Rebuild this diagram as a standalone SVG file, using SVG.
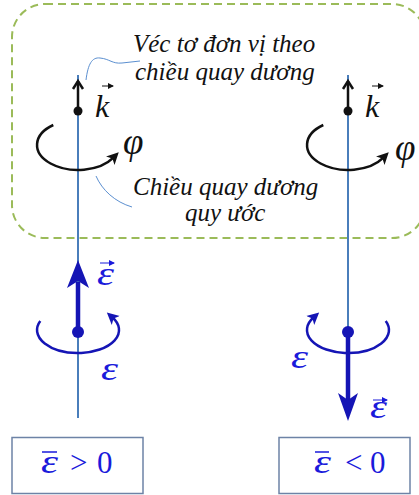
<svg xmlns="http://www.w3.org/2000/svg" width="419" height="495" viewBox="0 0 419 495">
<style>
.axis{stroke:#4a7ebb;stroke-width:2;fill:none}
.lead{stroke:#5b8fd0;stroke-width:1;fill:none}
.note{font-family:"Liberation Serif","Times New Roman",serif;font-style:italic;font-size:25px;fill:#111}
.sym{font-family:"Liberation Serif","Times New Roman",serif;font-style:italic;font-size:32px;fill:#111}
.phi{font-family:"Liberation Serif","Times New Roman",serif;font-style:italic;font-size:37px;fill:#111}
.bsym{font-family:"Liberation Serif","Times New Roman",serif;font-style:italic;font-size:34px;fill:#1a1adb}
.bnum{font-family:"Liberation Serif","Times New Roman",serif;font-size:31px;fill:#1a1adb}
.blk{stroke:#111;stroke-width:2.5;fill:none}
.blu{stroke:#1515b5;stroke-width:2.5;fill:none}
.box{fill:#fff;stroke:#6d83a6;stroke-width:1.5}
</style>
<defs>
<marker id="ahK" markerUnits="userSpaceOnUse" markerWidth="14" markerHeight="14" refX="4" refY="6" orient="auto" viewBox="0 0 14 12">
<path d="M0,0 L12,6 L0,12 L3,6 z" fill="#111"/>
</marker>
<marker id="ahB" markerUnits="userSpaceOnUse" markerWidth="14" markerHeight="14" refX="4" refY="6" orient="auto" viewBox="0 0 14 12">
<path d="M0,0 L12,6 L0,12 L3,6 z" fill="#1515b5"/>
</marker>
<marker id="ahS" markerUnits="userSpaceOnUse" markerWidth="6" markerHeight="6" refX="5" refY="3" orient="auto" viewBox="0 0 6 6">
<path d="M0,0 L6,3 L0,6 z" fill="#111"/>
</marker>
<marker id="ahSB" markerUnits="userSpaceOnUse" markerWidth="6" markerHeight="6" refX="5" refY="3" orient="auto" viewBox="0 0 6 6">
<path d="M0,0 L6,3 L0,6 z" fill="#1a1adb"/>
</marker>
</defs>

<g id="region">
<rect x="12" y="4" width="413" height="234" rx="33" ry="33" fill="none" stroke="#9bbb59" stroke-width="2" stroke-dasharray="8 5"/>
</g>

<g id="connectors">
<line class="axis" x1="78" y1="75" x2="78" y2="418"/>
<line class="axis" x1="348" y1="75" x2="348" y2="405"/>
<path class="lead" d="M86,80 C88,64 92,57 100,58 C110,59 112,64 122,63 L140,61"/>
<path class="lead" d="M96,176 C102,190 115,202 132,207"/>
</g>

<g id="label-top">
<text class="note" x="133" y="52">Véc tơ đơn vị theo</text>
<text class="note" x="135" y="80">chiều quay dương</text>
</g>
<g id="label-bottom">
<text class="note" x="133" y="195">Chiều quay dương</text>
<text class="note" x="185" y="221">quy ước</text>
</g>

<g id="left-k">
<line class="blk" x1="78" y1="111" x2="78" y2="81"/>
<polyline class="blk" points="73,89 78,81 83,89"/>
<circle cx="78" cy="111" r="4.5" fill="#111"/>
<text class="sym" x="95" y="117">k</text>
<line x1="102" y1="86" x2="113" y2="86" stroke="#111" stroke-width="1" marker-end="url(#ahS)"/>
</g>
<g id="left-phi">
<path class="blk" d="M53.3,125 A41,25 0 1 0 113.1,157.9" marker-end="url(#ahK)"/>
<text class="phi" x="123" y="154">φ</text>
</g>

<g id="right-k">
<line class="blk" x1="348" y1="111" x2="348" y2="81"/>
<polyline class="blk" points="343,89 348,81 353,89"/>
<circle cx="348" cy="111" r="4.5" fill="#111"/>
<text class="sym" x="365" y="117">k</text>
<line x1="372" y1="86" x2="383" y2="86" stroke="#111" stroke-width="1" marker-end="url(#ahS)"/>
</g>
<g id="right-phi">
<path class="blk" d="M323.3,125 A41,25 0 1 0 383.1,157.9" marker-end="url(#ahK)"/>
<text class="phi" x="395" y="160">φ</text>
</g>

<g id="left-eps">
<line x1="78" y1="332" x2="78" y2="282" stroke="#1515b5" stroke-width="4.5"/>
<polygon points="78,260 89,288 78,281 67,288" fill="#1515b5"/>
<circle cx="78" cy="332" r="6" fill="#1515b5"/>
<path class="blu" d="M40.3,321 A41,23 0 1 0 112.8,317.8" marker-end="url(#ahB)"/>
<text class="bsym" x="97" y="285" textLength="17" lengthAdjust="spacingAndGlyphs">ε</text>
<line x1="100" y1="263" x2="114" y2="263" stroke="#1a1adb" stroke-width="1" marker-end="url(#ahSB)"/>
<text class="bsym" x="101" y="380" textLength="17" lengthAdjust="spacingAndGlyphs">ε</text>
</g>

<g id="right-eps">
<line x1="348" y1="332" x2="348" y2="400" stroke="#1515b5" stroke-width="4.5"/>
<polygon points="348,421 358,393 348,400 338,393" fill="#1515b5"/>
<circle cx="348" cy="332" r="6" fill="#1515b5"/>
<path class="blu" d="M385.7,321 A41,23 0 1 1 313.2,317.8" marker-end="url(#ahB)"/>
<text class="bsym" x="370" y="418" textLength="17" lengthAdjust="spacingAndGlyphs">ε</text>
<line x1="373" y1="400" x2="387" y2="400" stroke="#1a1adb" stroke-width="1" marker-end="url(#ahSB)"/>
<text class="bsym" x="291" y="368" textLength="17" lengthAdjust="spacingAndGlyphs">ε</text>
</g>

<g id="box-pos">
<rect class="box" x="12" y="437.5" width="131" height="56"/>
<text class="bsym" x="41" y="473" textLength="17" lengthAdjust="spacingAndGlyphs">ε</text>
<line x1="42" y1="452" x2="57" y2="452" stroke="#1a1adb" stroke-width="1.5"/>
<text class="bnum" x="70" y="473">&gt;</text>
<text class="bnum" x="97" y="473">0</text>
</g>

<g id="box-neg">
<rect class="box" x="279" y="437.5" width="131" height="56"/>
<text class="bsym" x="314" y="473" textLength="17" lengthAdjust="spacingAndGlyphs">ε</text>
<line x1="315" y1="452" x2="329" y2="452" stroke="#1a1adb" stroke-width="1.5"/>
<text class="bnum" x="345" y="473">&lt;</text>
<text class="bnum" x="370" y="473">0</text>
</g>
</svg>
